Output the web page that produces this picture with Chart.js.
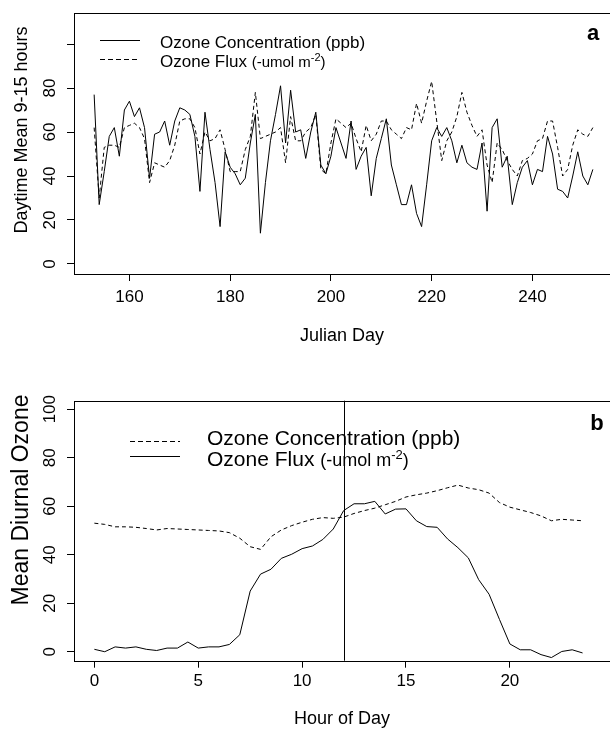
<!DOCTYPE html>
<html>
<head>
<meta charset="utf-8">
<script src="https://cdn.jsdelivr.net/npm/chart.js@4.4.0/dist/chart.umd.min.js"></script>
<style>
  body { margin: 0; background: #fff; }
  canvas { position: absolute; left: 0; }
</style>
</head>
<body>
<canvas id="panelA" width="610" height="366" style="top:0"></canvas>
<canvas id="panelB" width="610" height="366" style="top:366px"></canvas>
<script>
// panel a: daily daytime means, Julian day 153..252
const firstDay = 153;
const concA = [77, 27, 42, 58, 62, 49, 70, 74, 67, 71,
               62, 39, 59, 60, 65, 54, 65, 71, 70, 68,
               58, 33, 69, 52, 37, 17, 51, 44, 41, 36,
               39, 55, 68, 14, 37, 56, 68, 81, 55, 79,
               60, 61, 48, 60, 69, 45, 41, 49, 62, 55,
               48, 65, 43, 49, 53, 31, 48, 57, 66, 45,
               36, 27, 27, 36, 23, 17, 36, 56, 62, 58,
               62, 56, 46, 54, 46, 44, 43, 55, 24, 62,
               66, 44, 49, 27, 37, 44, 47, 36, 43, 42,
               58, 50, 34, 33, 30, 40, 51, 40, 36, 43];
const fluxA = [62, 30, 53, 54, 54, 53, 62, 63, 64, 62,
               57, 37, 46, 45, 44, 47, 54, 65, 66, 66,
               62, 50, 60, 56, 57, 61, 52, 42, 42, 42,
               52, 58, 78, 57, 58, 59, 60, 62, 46, 67,
               56, 56, 60, 62, 68, 43, 41, 55, 66, 64,
               62, 64, 57, 51, 63, 56, 59, 65, 65, 61,
               59, 57, 62, 61, 73, 64, 74, 83, 65, 47,
               56, 60, 67, 78, 69, 63, 58, 61, 45, 37,
               55, 52, 47, 43, 40, 47, 48, 50, 56, 57,
               65, 65, 53, 40, 43, 54, 61, 59, 58, 62];
const dayTicks = [160, 180, 200, 220, 240];
const yTicksA = [0, 20, 40, 60, 80, 100];
const yLabelsA = [0, 20, 40, 60, 80];

// panel b: mean diurnal course, half-hourly 0..23.5
const concB = [53, 52.5, 51.5, 51.5, 51.3, 50.8, 50.2, 50.8, 50.6, 50.4,
               50.2, 50, 49.8, 49.1, 46.8, 43.3, 42.2, 47.4, 50.2, 52,
               53.4, 54.6, 55.3, 55, 55.5, 57, 58.2, 59.2, 60.6, 62,
               63.8, 64.7, 65.4, 66.4, 67.6, 68.7, 67.5, 66.8, 65.4, 61.5,
               59.6, 58.5, 57.4, 56, 54, 54.6, 54.3, 54];
const fluxB = [1, 0, 2, 1.5, 2, 1, 0.5, 1.5, 1.5, 4,
               1.5, 2, 2, 3, 7, 25, 32, 34, 38.5, 40.2,
               42.5, 43.6, 46.3, 50.6, 58.2, 61, 61, 62, 56.8, 58.8,
               58.9, 54, 51.6, 51.3, 46.5, 42.9, 38.7, 29.7, 23.7, 13.3,
               3.2, 0.8, 0.8, -1.2, -2.4, 0.1, 0.8, -0.5];
const hourTicks = [0, 5, 10, 15, 20];
const yTicksB = [0, 20, 40, 60, 80, 100];
const markerHour = 12;

const days = concA.map((_, i) => firstDay + i);
const hours = concB.map((_, i) => i / 2);

const FONT = '"Liberation Sans", Arial, Helvetica, sans-serif';
Chart.defaults.font.family = FONT;
Chart.defaults.color = '#000';

// box, rotated y labels and title, panel letter, legend, marker line
const extras = {
  id: 'extras',
  afterDraw(chart, args, o) {
    const {ctx, chartArea: a, scales} = chart;
    ctx.save();
    ctx.strokeStyle = '#000';
    ctx.fillStyle = '#000';
    ctx.lineWidth = 1;
    ctx.strokeRect(Math.round(a.left) + 0.5, Math.round(a.top) + 0.5,
                   a.right - a.left + 20, Math.round(a.bottom - a.top));

    if (o.marker != null) {
      const x = Math.round(scales.x.getPixelForValue(o.marker)) + 0.5;
      ctx.beginPath();
      ctx.moveTo(x, a.top);
      ctx.lineTo(x, a.bottom);
      ctx.stroke();
    }

    const rotated = (txt, x, y) => {
      ctx.save();
      ctx.translate(x, y);
      ctx.rotate(-Math.PI / 2);
      ctx.fillText(txt, 0, 0);
      ctx.restore();
    };
    ctx.textAlign = 'center';
    ctx.textBaseline = 'middle';
    ctx.font = o.tickFont;
    o.yLabels.forEach(v => rotated(String(v), o.yLabelX, scales.y.getPixelForValue(v)));
    ctx.font = o.yTitleFont;
    rotated(o.yTitle, o.yTitleX, o.yTitleY);

    ctx.textBaseline = 'alphabetic';
    ctx.font = o.letterFont;
    ctx.fillText(o.letter, o.letterX, o.letterY);

    ctx.textAlign = 'left';
    o.legend.forEach(it => {
      ctx.setLineDash(it.dash);
      ctx.beginPath();
      ctx.moveTo(o.lineX0, it.lineY);
      ctx.lineTo(o.lineX1, it.lineY);
      ctx.stroke();
      ctx.setLineDash([]);
      let x = o.textX;
      it.parts.forEach(([txt, font, rise]) => {
        ctx.font = font;
        ctx.fillText(txt, x, it.baseY - rise);
        x += ctx.measureText(txt).width;
      });
    });
    ctx.restore();
  }
};

function lineSet(xs, ys, dashed) {
  return {
    data: xs.map((x, i) => ({x: x, y: ys[i]})),
    borderColor: '#000',
    borderWidth: 1,
    borderDash: dashed ? [4, 3] : [],
    pointRadius: 0,
    tension: 0,
    fill: false
  };
}

function axisX(min, max, ticks, title, height, titlePad, labelPad) {
  return {
    type: 'linear', min: min, max: max,
    afterBuildTicks: s => { s.ticks = ticks.map(v => ({value: v})); },
    afterFit: s => { s.height = height; },
    ticks: {autoSkip: false, maxRotation: 0, padding: labelPad, font: {size: 17}, color: '#000'},
    grid: {drawOnChartArea: false, drawTicks: true, tickLength: 7, color: '#000', lineWidth: 1},
    border: {display: false},
    title: {display: true, text: title, font: {size: 18}, color: '#000', padding: {top: 0, bottom: titlePad}}
  };
}

function axisY(min, max, ticks) {
  return {
    type: 'linear', min: min, max: max,
    afterBuildTicks: s => { s.ticks = ticks.map(v => ({value: v})); },
    afterFit: s => { s.width = 74; },
    ticks: {display: false},
    grid: {drawOnChartArea: false, drawTicks: true, tickLength: 7, color: '#000', lineWidth: 1},
    border: {display: false}
  };
}

new Chart(document.getElementById('panelA'), {
  type: 'line',
  data: {datasets: [lineSet(days, concA, false), lineSet(days, fluxA, true)]},
  options: {
    responsive: false,
    animation: false,
    layout: {padding: {left: 0, right: 0, top: 13, bottom: 0}},
    scales: {
      x: axisX(149.0, 255.4, dayTicks, 'Julian Day', 92, 19, 6),
      y: axisY(-4.55, 114.1, yTicksA)
    },
    plugins: {
      legend: {display: false},
      tooltip: {enabled: false},
      extras: {
        yLabels: yLabelsA, yLabelX: 50, tickFont: '17px ' + FONT,
        yTitle: 'Daytime Mean 9-15 hours', yTitleX: 22, yTitleY: 130, yTitleFont: '18px ' + FONT,
        letter: 'a', letterX: 593, letterY: 40, letterFont: 'bold 22px ' + FONT,
        lineX0: 100, lineX1: 140, textX: 160,
        legend: [
          {dash: [], lineY: 40.5, baseY: 48,
           parts: [['Ozone Concentration (ppb)', '17px ' + FONT, 0]]},
          {dash: [5, 3], lineY: 59.5, baseY: 66.5,
           parts: [['Ozone Flux ', '17px ' + FONT, 0], ['(-umol m', '15px ' + FONT, 0],
                   ['-2', '11px ' + FONT, 6], [')', '15px ' + FONT, 0]]}
        ]
      }
    }
  },
  plugins: [extras]
});

new Chart(document.getElementById('panelB'), {
  type: 'line',
  data: {datasets: [lineSet(hours, concB, true), lineSet(hours, fluxB, false)]},
  options: {
    responsive: false,
    animation: false,
    layout: {padding: {left: 0, right: 0, top: 34.7, bottom: 0}},
    scales: {
      x: axisX(-0.98, 24.82, hourTicks, 'Hour of Day', 71.3, 2, 3),
      y: axisY(-3.7, 103.5, yTicksB)
    },
    plugins: {
      legend: {display: false},
      tooltip: {enabled: false},
      extras: {
        marker: markerHour,
        yLabels: yTicksB, yLabelX: 50, tickFont: '17px ' + FONT,
        yTitle: 'Mean Diurnal Ozone', yTitleX: 22, yTitleY: 134, yTitleFont: '23px ' + FONT,
        letter: 'b', letterX: 597, letterY: 64, letterFont: 'bold 22px ' + FONT,
        lineX0: 130, lineX1: 180, textX: 207,
        legend: [
          {dash: [5, 3], lineY: 75.5, baseY: 79,
           parts: [['Ozone Concentration (ppb)', '21px ' + FONT, 0]]},
          {dash: [], lineY: 90.5, baseY: 100,
           parts: [['Ozone Flux ', '21px ' + FONT, 0], ['(-umol m', '18px ' + FONT, 0],
                   ['-2', '13px ' + FONT, 7], [')', '18px ' + FONT, 0]]}
        ]
      }
    }
  },
  plugins: [extras]
});
</script>
</body>
</html>
